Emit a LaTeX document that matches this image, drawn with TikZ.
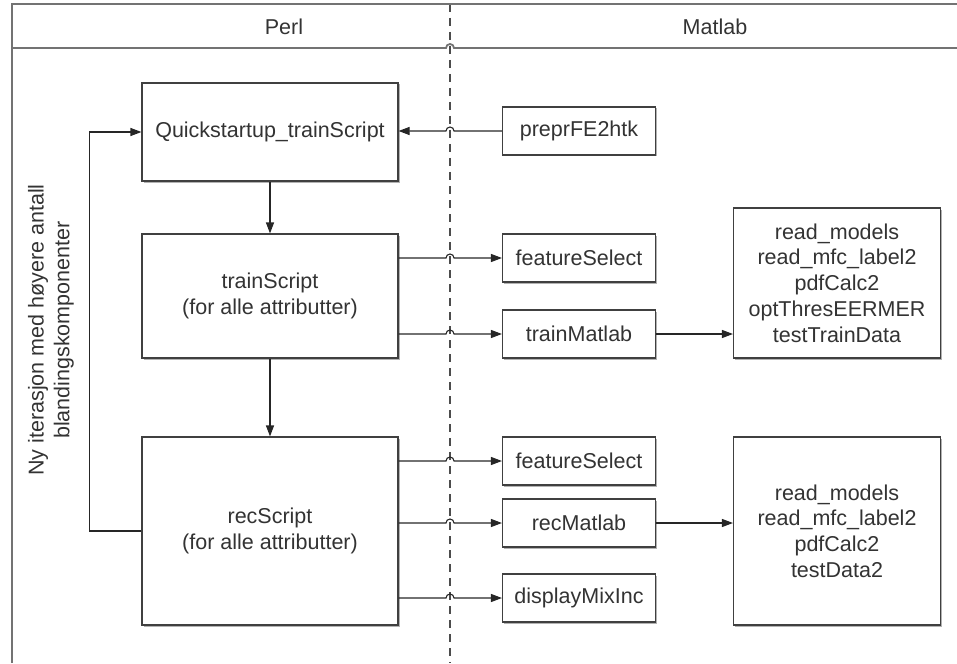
\documentclass[tikz,border=0pt]{standalone}
\usepackage{fontspec}
\setmainfont{Liberation Sans}
\usetikzlibrary{arrows.meta}
\usetikzlibrary{shadows}

\begin{document}
\begin{tikzpicture}[x = 1pt, y = 1pt, font = \fontsize{21.5}{25.7}\selectfont, text = black!80,
		box/.style = {draw = black!75, fill = white, line width = 1.1pt, align = center,
			drop shadow = {shadow xshift = 1.5pt, shadow yshift = -1.5pt, fill = black!30, opacity = 1}},
		small/.style = {box, minimum width = 153pt, minimum height = 48pt},
		arr/.style = {draw = black!85, line width = 1.1pt, -{Triangle[length = 11pt, width = 8pt]}},
		frame/.style = {draw = black!55, line width = 1.8pt}]
		\useasboundingbox (0,0) rectangle (957,-663);
		% swimlanes
		\coordinate (div) at (450,-4);
		\draw [black!70, line width = 1.1pt, dash pattern = on 8pt off 6pt] (div) -- (450,-663);
		\draw [frame] (12,-663) -- (12,-4) -- (957,-4);
		\draw [frame] (12,-48) -- (446,-48) arc [start angle = 180, end angle = 0, radius = 4pt] -- (957,-48);
		\node (perl) at (284,-27) {Perl};
		\node (matlab) at (715,-27) {Matlab};
		% Perl
		\node[box, minimum width = 256pt, minimum height = 98pt] (quick) at (270,-132) {Quickstartup\_trainScript};
		\node[box, minimum width = 256pt, minimum height = 124pt] (train) at (270,-296) {trainScript\\(for alle attributter)};
		\node[box, minimum width = 256pt, minimum height = 188pt] (rec) at (270,-531) {recScript\\(for alle attributter)};
		\node[rotate = 90, align = center] (loop) at (51,-330) {Ny iterasjon med høyere antall\\blandingskomponenter};
		% Matlab
		\node[small] (prepr) at (579,-131) {preprFE2htk};
		\node[small] (fsA) at (579,-258) {featureSelect};
		\node[small] (trm) at (579,-334) {trainMatlab};
		\node[small] (fsB) at (579,-461) {featureSelect};
		\node[small] (recm) at (579,-523) {recMatlab};
		\node[small] (disp) at (579,-598) {displayMixInc};
		\node[box, minimum width = 207pt, minimum height = 150pt] (trlist) at (837,-283)
			{read\_models\\read\_mfc\_label2\\pdfCalc2\\optThresEERMER\\testTrainData};
		\node[box, minimum width = 207pt, minimum height = 188pt] (reclist) at (837,-531)
			{read\_models\\read\_mfc\_label2\\pdfCalc2\\testData2};
		% arrows
		\draw [arr] (quick) -- (train);
		\draw [arr] (train) -- (rec);
		\draw [arr] (rec.west) -- ++(-52,0) |- (quick.west);
		\draw [arr] (prepr.west) -- ([xshift = 4pt] div |- prepr.west) arc [start angle = 0, end angle = 180, radius = 4pt] -- (quick.east |- prepr.west);
		\foreach \src/\dst in {train/fsA, train/trm, rec/fsB, rec/recm, rec/disp}{
			\draw [arr] (\src.east |- \dst.west) -- ([xshift = -4pt] div |- \dst.west) arc [start angle = 180, end angle = 0, radius = 4pt] -- (\dst.west);
			}
		\draw [arr] (trm.east) -- (trm.east -| trlist.west);
		\draw [arr] (recm.east) -- (recm.east -| reclist.west);
	\end{tikzpicture}
\end{document}
